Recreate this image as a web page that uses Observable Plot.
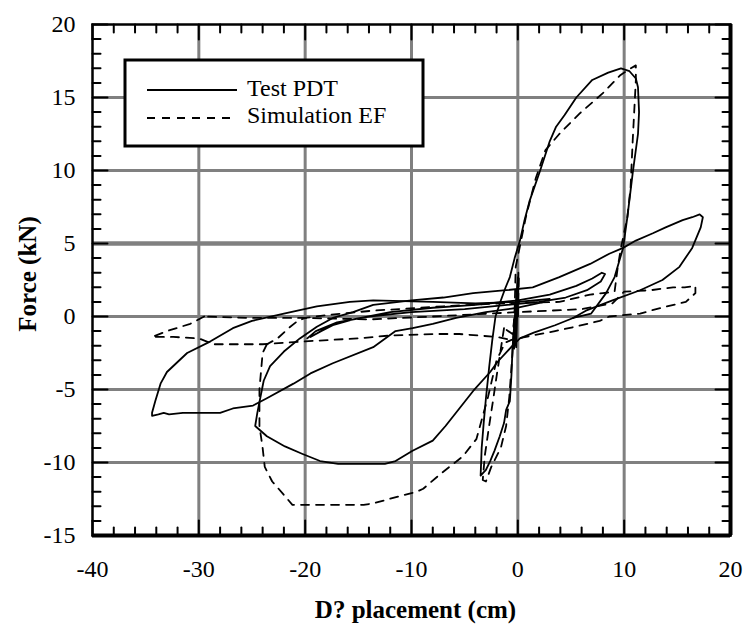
<!DOCTYPE html>
<html><head><meta charset="utf-8">
<script src="https://cdn.jsdelivr.net/npm/d3@7"></script>
<script src="https://cdn.jsdelivr.net/npm/@observablehq/plot@0.6"></script>
<style>
body{margin:0;background:#fff}
#chart{width:746px;height:626px}
#chart svg text{font-family:"Liberation Serif","Times New Roman",serif !important;}
</style>
</head><body><div id="chart"></div>
<script>
// ---- tick labels & series names ----
const xTickLabels = [-40, -30, -20, -10, 0, 10, 20];
const yTickLabels = [-15, -10, -5, 0, 5, 10, 15, 20];
const seriesNames = ["Test PDT", "Simulation EF"];
const xAxisTitle = "D? placement (cm)";
const yAxisTitle = "Force (kN)";

// ---- Test PDT (solid) : [displacement cm, force kN] ----
const testSmall = [[0,0],[0.05,3.0],[-0.15,-2.1],[0.0,2.7],[-0.3,-2.0],[-0.05,2.3],[-0.35,-2.2],[-0.1,1.8],[-0.5,-2.2]];
const testNarrow = [[-0.5,-2.2],[-0.6,-4.0],[-0.75,-5.8],[-1.1,-6.4],[-1.3,-7.3],[-1.7,-8.2],[-2.2,-9.2],[-2.6,-9.9],[-3.0,-10.5],[-3.5,-10.9],[-3.4,-9.0],[-3.2,-7.2],[-3.0,-5.6],[-2.7,-3.5],[-2.4,-1.6],[-2.1,0.0],[-1.6,1.1],[-1.2,1.9],[-0.75,2.7],[-0.3,4.0],[0.2,5.2],[0.6,6.5],[1.1,7.9],[2.1,10.0],[3.0,12.0],[3.6,13.0],[4.4,13.8],[5.5,15.0],[7.0,16.2],[8.5,16.7],[9.7,17.0],[10.5,16.8],[11.1,16.3],[11.3,15.7],[11.4,14.0],[11.3,12.5],[10.8,9.8],[10.3,6.8],[9.9,4.7],[9.1,2.7],[8.3,1.6],[6.9,0.2],[5.2,-0.1]];
const testWide = [[5.2,-0.1],[3.5,-0.6],[1.5,-1.1],[0.2,-1.5],[-0.5,-2.0],[-1.9,-3.1],[-2.6,-3.8],[-4.2,-5.1],[-5.5,-6.3],[-6.8,-7.5],[-8.0,-8.5],[-9.9,-9.2],[-11.5,-9.9],[-12.5,-10.1],[-16.9,-10.1],[-18.6,-9.9],[-20.3,-9.4],[-21.9,-8.9],[-23.6,-8.2],[-24.7,-7.5],[-24.5,-6.6],[-24.2,-5.5],[-23.9,-4.4],[-23.3,-3.4],[-22.0,-2.4],[-20.5,-1.5],[-18.9,-0.7],[-17.4,-0.1],[-15.5,0.3],[-13.6,0.8],[-10.0,1.1],[-7.0,1.3],[-4.2,1.6],[-1.1,1.8],[1.4,2.0],[3.9,2.7],[6.8,3.6],[8.6,4.3],[9.9,4.7],[11.1,5.2],[12.7,5.7],[13.9,6.1],[15.5,6.6],[16.4,6.8],[17.1,7.0],[17.4,6.8],[17.2,6.1],[16.4,4.7],[15.2,3.4],[13.6,2.5],[11.5,1.8],[8.9,1.1],[6.4,0.4],[5.2,-0.1]];
const testInner = [[-19.5,-1.4],[-18.5,-1.0],[-17.4,-0.6],[-15.5,-0.2],[-12.0,0.3],[-8.0,0.6],[-4.0,0.8],[0.0,1.1],[3.0,1.5],[5.5,2.1],[7.0,2.6],[7.9,3.0],[8.2,2.9],[7.8,2.4],[6.5,1.8],[4.5,1.3],[2.0,1.0],[-1.0,0.8],[-5.0,0.5],[-10.0,0.3],[-14.0,0.0],[-17.0,-0.4],[-19.0,-1.0],[-19.8,-1.5]];
const testOuter = [[3.0,1.2],[0.0,1.0],[-4.0,0.9],[-8.0,1.0],[-13.6,1.1],[-15.8,1.0],[-18.9,0.7],[-22.0,0.2],[-25.0,-0.3],[-26.8,-0.8],[-28.9,-1.7],[-31.1,-2.5],[-33.0,-3.8],[-33.6,-4.6],[-34.1,-5.8],[-34.4,-6.6],[-34.4,-6.8],[-33.8,-6.7],[-33.3,-6.6],[-32.8,-6.7],[-31.5,-6.6],[-28.0,-6.6],[-26.8,-6.3],[-24.9,-6.1],[-23.6,-5.6],[-21.1,-4.6],[-19.5,-3.9],[-17.4,-3.2],[-13.6,-2.1],[-11.5,-1.0],[-9.9,-0.8],[-8.0,-0.5],[-5.8,-0.1],[-3.0,0.3],[0.0,0.6],[2.5,1.0]];

// ---- Simulation EF (dashed) ----
const simSmall = [[0,0],[0.1,2.8],[-0.3,-1.5],[0.05,2.3],[-0.5,-1.2],[-1.3,-0.8]];
const simNarrow = [[-1.3,-0.8],[-1.7,-2.7],[-2.0,-4.1],[-2.3,-5.6],[-2.7,-7.5],[-3.1,-9.5],[-3.3,-11.2],[-3.0,-11.3],[-2.5,-10.3],[-1.6,-9.0],[-1.1,-7.5],[-0.8,-5.5],[-0.5,-2.5],[-0.3,0.5],[-0.2,3.4],[0.75,6.8],[1.7,9.5],[2.6,11.4],[3.9,12.5],[5.8,13.9],[8.0,15.3],[9.6,16.5],[10.4,16.9],[11.1,17.2],[11.1,16.2],[10.8,12.0],[10.6,8.8],[10.3,6.8],[9.7,4.7],[9.4,3.4],[9.1,1.7],[8.0,1.6],[6.8,1.5],[3.9,1.0],[-1.7,0.9],[-7.0,0.7],[-13.6,0.4],[-18.0,0.1],[-20.0,-0.1],[-20.7,-0.3],[-21.4,-0.7],[-22.6,-1.5],[-23.6,-1.9]];
const simMid = [[-23.6,-1.9],[-24.0,-2.5],[-24.3,-5.0],[-24.3,-7.5],[-24.0,-9.0],[-23.8,-10.3],[-23.1,-11.3],[-22.5,-11.8],[-21.2,-12.9],[-18.0,-12.9],[-14.5,-12.9],[-13.6,-12.8],[-11.1,-12.3],[-9.5,-12.0],[-8.9,-11.8],[-7.3,-10.8],[-5.2,-9.6],[-3.9,-8.4],[-2.8,-5.5],[-2.0,-3.0],[-1.2,-1.8],[-0.6,-1.6],[1.4,-1.3],[3.5,-1.0],[5.4,-0.7],[7.7,-0.3],[8.6,0.0],[11.5,0.2],[13.5,0.6],[15.8,1.0],[16.7,1.6],[16.7,2.1],[15.7,2.0],[14.6,2.0],[12.5,1.8],[10.0,1.7],[8.9,0.9],[6.0,0.5],[0.0,0.3],[-8.0,0.0],[-14.0,-0.2],[-20.0,-0.1],[-25.0,-0.1],[-29.5,0.0]];
const simOuter = [[-29.5,0.0],[-30.8,-0.5],[-33.0,-1.0],[-34.4,-1.4],[-32.4,-1.4],[-30.0,-1.5],[-28.6,-1.9],[-24.0,-1.9],[-20.0,-1.7],[-15.0,-1.5],[-12.0,-1.3],[-8.0,-1.2],[-5.5,-1.2],[-2.0,-1.4],[-0.6,-1.6]];

// ---- build tables ----
const toRows = (series, path, pts) => pts.map(([x, y]) => ({series, path, x, y}));
const testRows = [
  ...toRows(seriesNames[0], "small", testSmall),
  ...toRows(seriesNames[0], "narrow", testNarrow),
  ...toRows(seriesNames[0], "wide", testWide),
  ...toRows(seriesNames[0], "inner", testInner),
  ...toRows(seriesNames[0], "outer", testOuter)
];
const simRows = [
  ...toRows(seriesNames[1], "small", simSmall),
  ...toRows(seriesNames[1], "narrow", simNarrow),
  ...toRows(seriesNames[1], "mid", simMid),
  ...toRows(seriesNames[1], "outer", simOuter)
];

const FONT = "'Liberation Serif','Times New Roman',serif";
const xMinor = d3.range(-38, 20, 2).filter(v => v % 10 !== 0);
const yMinor = d3.range(-14, 20, 1).filter(v => v % 5 !== 0);
const tickShape = {draw(ctx, l) { ctx.moveTo(0, 0); ctx.lineTo(0, -l); }};
const fmt = d => `${d}`;
const DASH = "8,7";

const ticks = (vals, anchor, rotate, length) =>
  Plot.vector(vals, {
    ...(anchor === "top" || anchor === "bottom" ? {x: d => d} : {y: d => d}),
    frameAnchor: anchor, rotate, length, anchor: "start", shape: tickShape,
    stroke: "black", strokeWidth: 2
  });

const plot = Plot.plot({
  width: 746, height: 626,
  marginLeft: 92, marginRight: 16, marginTop: 24, marginBottom: 91,
  style: {fontFamily: FONT, fontSize: "24px", background: "white", color: "black"},
  x: {domain: [-40, 20]},
  y: {domain: [-15, 20]},
  marks: [
    Plot.ruleX(xTickLabels.filter(v => v > -40 && v < 20), {stroke: "#808080", strokeWidth: 3}),
    Plot.ruleY(yTickLabels.filter(v => v > -15 && v < 20 && v !== 5), {stroke: "#808080", strokeWidth: 3}),
    Plot.ruleY(yTickLabels.filter(v => v === 5), {stroke: "#808080", strokeWidth: 4.5}),
    ticks(xTickLabels, "bottom", 0, 15), ticks(xTickLabels, "top", 180, 15),
    ticks(xMinor, "bottom", 0, 8), ticks(xMinor, "top", 180, 8),
    ticks(yTickLabels, "left", 90, 15), ticks(yTickLabels, "right", -90, 15),
    ticks(yMinor, "left", 90, 8), ticks(yMinor, "right", -90, 8),
    Plot.line(simRows, {x: "x", y: "y", z: "path", stroke: "black", strokeWidth: 1.8, strokeDasharray: DASH}),
    Plot.line(testRows, {x: "x", y: "y", z: "path", stroke: "black", strokeWidth: 1.8, strokeLinejoin: "round"}),
    Plot.frame({stroke: "black", strokeWidth: 2.5}),
    Plot.ruleX([20], {stroke: "black", strokeWidth: 4}),
    Plot.ruleY([-15], {stroke: "black", strokeWidth: 4}),
    Plot.axisX(xTickLabels, {anchor: "bottom", tickSize: 0, tickPadding: 24, tickFormat: fmt, fontSize: 24, fontFamily: FONT, label: null}),
    Plot.axisY(yTickLabels, {anchor: "left", tickSize: 0, tickPadding: 17, tickFormat: fmt, fontSize: 24, fontFamily: FONT, label: null}),
    Plot.text([xAxisTitle], {text: d => d, frameAnchor: "bottom", dx: 4, dy: 74, textAnchor: "middle", lineAnchor: "middle", fontSize: 25, fontWeight: "bold", fontFamily: FONT}),
    Plot.text([yAxisTitle], {text: d => d, frameAnchor: "left", dx: -65, dy: -6, rotate: -90, textAnchor: "middle", lineAnchor: "middle", fontSize: 25, fontWeight: "bold", fontFamily: FONT})
  ]
});

// ---- legend box (inside the plot, top-left) ----
const svg = d3.select(plot);
const lg = svg.append("g").attr("class", "legend");
lg.append("rect").attr("x", 125).attr("y", 60).attr("width", 298).attr("height", 86)
  .attr("fill", "white").attr("stroke", "black").attr("stroke-width", 3);
const legendRows = [
  {name: seriesNames[0], y: 90, ty: 96, dash: null},
  {name: seriesNames[1], y: 118, ty: 123, dash: DASH}
];
legendRows.forEach(r => {
  lg.append("line").attr("x1", 147).attr("x2", 237).attr("y1", r.y).attr("y2", r.y)
    .attr("stroke", "black").attr("stroke-width", 1.8).attr("stroke-dasharray", r.dash);
  lg.append("text").attr("x", 247).attr("y", r.ty)
    .style("font-size", "24px").style("font-family", FONT).style("text-anchor", "start")
    .attr("fill", "black").text(r.name);
});

document.getElementById("chart").append(plot);
</script>
</body></html>
